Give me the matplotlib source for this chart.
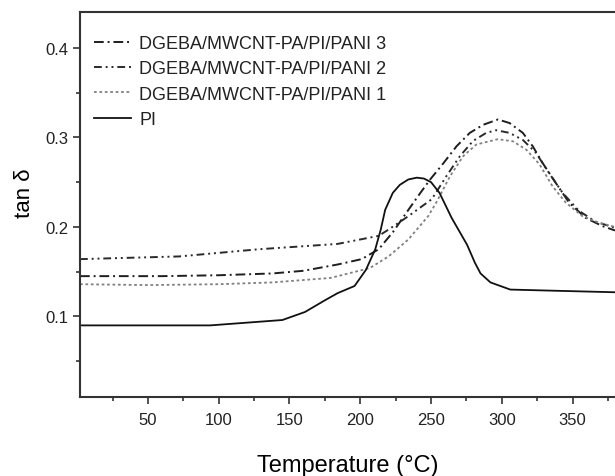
#!/usr/bin/env python3
"""========================================================================
Purpose:
    tan delta versus temperature for PI and DGEBA/MWCNT-PA/PI/PANI blends.
========================================================================"""
#=========================================================================#
# Python packages                                                         #
#=========================================================================#
import matplotlib
matplotlib.use('Agg')
import matplotlib.pyplot as plt
from matplotlib.ticker import MultipleLocator

#=========================================================================#
# Data                                           #
#=========================================================================#
T_pi        = [2, 94, 145, 161, 175, 184, 196, 204, 210.6, 214.5, 217.6,
               223, 228, 234, 240, 245, 250, 256, 264.6, 275.5, 281,
               285, 292, 306, 330, 380]
tan_pi      = [0.090, 0.090, 0.096, 0.105, 0.118, 0.126, 0.134, 0.152,
               0.175, 0.197, 0.219, 0.238, 0.247, 0.253, 0.255, 0.254,
               0.250, 0.238, 0.210, 0.180, 0.160, 0.148, 0.138, 0.130,
               0.129, 0.127]

T_p3        = [2, 60, 100, 138, 160, 184, 201, 213, 223, 234, 242.5, 249.4,
               258.7, 268, 277.4, 286.8, 297.3, 305.5, 314.9, 321.9, 329,
               338.2, 347.6, 359.3, 371, 380]
tan_p3      = [0.145, 0.145, 0.146, 0.148, 0.151, 0.158, 0.164, 0.175,
               0.194, 0.219, 0.238, 0.253, 0.271, 0.290, 0.305, 0.314,
               0.320, 0.316, 0.305, 0.290, 0.271, 0.249, 0.227, 0.210,
               0.201, 0.196]

T_p2        = [2, 72, 128, 184, 213, 220, 234, 250.6, 261, 270.4, 279.7,
               289, 296, 305.5, 315, 324, 333.5, 343, 354.5, 366, 380]
tan_p2      = [0.164, 0.167, 0.175, 0.181, 0.190, 0.197, 0.212, 0.231,
               0.257, 0.279, 0.296, 0.305, 0.308, 0.305, 0.297, 0.283,
               0.260, 0.238, 0.218, 0.206, 0.199]

T_p1        = [2, 50, 100, 138, 179, 206.7, 220, 234, 248, 254, 263.4,
               272.7, 282, 297.3, 307.9, 317.3, 326.6, 336, 345.3, 357,
               368.7, 380]
tan_p1      = [0.136, 0.135, 0.136, 0.138, 0.143, 0.154, 0.167, 0.186,
               0.212, 0.228, 0.2565, 0.279, 0.292, 0.298, 0.2956, 0.2863,
               0.270, 0.245, 0.227, 0.212, 0.2046, 0.200]

labels      = ['DGEBA/MWCNT-PA/PI/PANI 3', 'DGEBA/MWCNT-PA/PI/PANI 2',
               'DGEBA/MWCNT-PA/PI/PANI 1', 'PI']

#=========================================================================#
# Main                                                                    #
#=========================================================================#
if __name__ == '__main__':
    #---------------------------------------------------------------------#
    # Settings                                                            #
    #---------------------------------------------------------------------#
    plt.rcParams['font.family']  = ['Liberation Sans', 'DejaVu Sans']
    plt.rcParams['text.color']   = '#222222'
    fig         = plt.figure(figsize=(6.15, 4.77), dpi=100)
    ax          = fig.add_axes([0.1301, 0.1656, 0.8699, 0.8071])
    #---------------------------------------------------------------------#
    # Curves                                                              #
    #---------------------------------------------------------------------#
    ax.plot(T_p3, tan_p3, color='#1e1e1e', lw=1.4,
            dashes=(5, 2, 1, 2), label=labels[0])
    ax.plot(T_p2, tan_p2, color='#2a2a2a', lw=1.4,
            dashes=(4, 2, 1, 2, 1, 2), label=labels[1])
    ax.plot(T_p1, tan_p1, color='#808080', lw=1.3,
            dashes=(1.5, 1.5), label=labels[2])
    ax.plot(T_pi, tan_pi, color='#111111', lw=1.3, label=labels[3])
    #---------------------------------------------------------------------#
    # Axes                                                                #
    #---------------------------------------------------------------------#
    ax.set_xlim(2, 380)
    ax.set_ylim(0.01, 0.44)
    ax.xaxis.set_minor_locator(MultipleLocator(25))
    ax.yaxis.set_minor_locator(MultipleLocator(0.05))
    ax.set_xticks([50, 100, 150, 200, 250, 300, 350])
    ax.set_yticks([0.1, 0.2, 0.3, 0.4])
    ax.set_yticklabels(['0.1', '0.2', '0.3', '0.4'])
    ax.spines['right'].set_visible(False)
    for s in ['left', 'bottom', 'top']:
        ax.spines[s].set_linewidth(1.5)
        ax.spines[s].set_color('#333333')
    ax.tick_params(which='major', direction='out', length=5, width=1.2,
                   color='#333333', labelsize=12, labelcolor='#222222')
    ax.tick_params(which='minor', direction='out', length=3, width=1.2,
                   color='#333333')
    ax.tick_params(axis='x', which='major', pad=6)
    ax.tick_params(axis='x', which='both', top=False)
    ax.set_xlabel('Temperature (°C)', fontsize=17, labelpad=19)
    ax.set_ylabel('tan δ', fontsize=16, labelpad=7)
    ax.yaxis.label.set_y(0.532)
    #---------------------------------------------------------------------#
    # Legend                                                              #
    #---------------------------------------------------------------------#
    ax.legend(loc='upper left', bbox_to_anchor=(0.026, 0.94),
              frameon=False, fontsize=13, handlelength=2.05,
              handletextpad=0.45, labelspacing=0.46, borderpad=0,
              borderaxespad=0)
    fig.savefig('out.png', dpi=100)
